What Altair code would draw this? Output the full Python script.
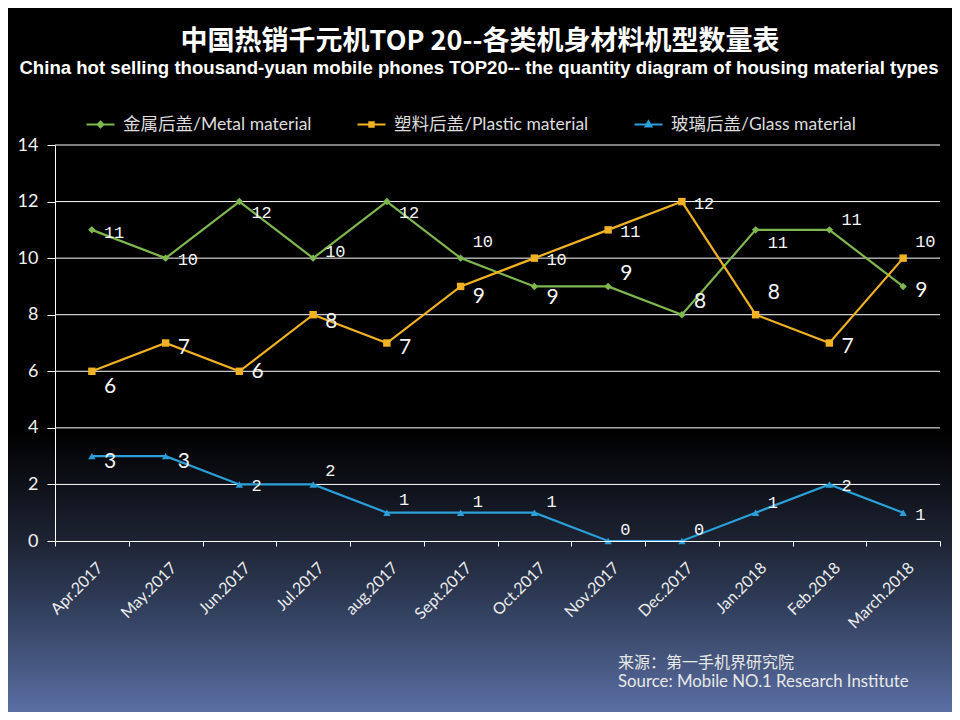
import altair as alt
import pandas as pd

# ---- data ----
months = ["Apr.2017", "May.2017", "Jun.2017", "Jul.2017", "aug.2017", "Sept.2017",
          "Oct.2017", "Nov.2017", "Dec.2017", "Jan.2018", "Feb.2018", "March.2018"]
series = ["金属后盖/Metal material", "塑料后盖/Plastic material", "玻璃后盖/Glass material"]
metal = [11, 10, 12, 10, 12, 10, 9, 9, 8, 11, 11, 9]
plastic = [6, 7, 6, 8, 7, 9, 10, 11, 12, 8, 7, 10]
glass = [3, 3, 2, 2, 1, 1, 1, 0, 0, 1, 2, 1]
y_ticks = [0, 2, 4, 6, 8, 10, 12, 14]

# ---- label vertical nudges (pixels, positive = down), style only ----
metal_dy = [3, 2, 11, -6, 11, -16, 12, -12, -13, 13, -10, 5]
plastic_dy = [16, 5, 1, 7, 5, 11, 2, 2, 2, -22, 4, -16]
glass_dy = [6, 6, 2, -13, -13, -11, -11, -11, -11, -10, 2, 2]

colors = ["#7fb84e", "#f1b324", "#2a9fd8"]
PW, PH = 885, 396
px_per_unit = PH / 14.0

rows = []
for s, vals, dys in zip(series, [metal, plastic, glass], [metal_dy, plastic_dy, glass_dy]):
    for m, v, d in zip(months, vals, dys):
        rows.append({"month": m, "series": s, "value": v, "label_y": v - d / px_per_unit})
df = pd.DataFrame(rows)

FONT_LAT = "Lato, Noto Sans CJK SC"

yaxis = alt.Axis(values=y_ticks, grid=False, domainColor="#ffffff", domainWidth=1,
                 tickColor="#ffffff", tickSize=8, labelColor="#f2f2f2", labelFont="Lato",
                 labelFontSize=18, labelPadding=9, title=None, zindex=1)
xaxis = alt.Axis(tickBand="extent", labelAngle=-45, labelAlign="right", labelBaseline="middle",
                 labelColor="#ececec", labelFont="Lato", labelFontSize=16, labelPadding=19,
                 labelOffset=8, domainColor="#ffffff", tickColor="#ffffff", tickSize=5,
                 grid=False, title=None, zindex=1)

yscale = alt.Scale(domain=[0, 14], nice=False)
X = alt.X("month:N", sort=months, bandPosition=0.5,
          scale=alt.Scale(type="band", domain=months, paddingInner=0, paddingOuter=0),
          axis=xaxis)
Y = alt.Y("value:Q", scale=yscale, axis=yaxis)
YL = alt.Y("label_y:Q", scale=yscale, axis=yaxis)
col_scale = alt.Scale(domain=series, range=colors)

base = alt.Chart(df)

# background gradient covering the whole canvas
bg = alt.Chart(pd.DataFrame({"bg": [0]})).mark_rect(
    color=alt.LinearGradient(
        gradient="linear", x1=0, x2=0, y1=0, y2=1,
        stops=[alt.GradientStop(color="#000000", offset=0),
               alt.GradientStop(color="#000000", offset=0.6),
               alt.GradientStop(color="#1d2333", offset=0.756),
               alt.GradientStop(color="#2e3b57", offset=0.84),
               alt.GradientStop(color="#45567e", offset=0.926),
               alt.GradientStop(color="#5a6ea3", offset=1)])
).encode(x=alt.value(-47), x2=alt.value(897), y=alt.value(-137), y2=alt.value(567))

grid = alt.Chart(pd.DataFrame({"tick": y_ticks[1:]})).mark_rule(color="#ffffff", strokeWidth=1).encode(
    y=alt.Y("tick:Q", scale=yscale, axis=yaxis), x=alt.value(0), x2=alt.value(PW))

lines = base.mark_line(strokeWidth=2.2).encode(
    x=X, y=Y, color=alt.Color("series:N", scale=col_scale, legend=None))

points = base.mark_point(filled=True, size=55, opacity=1).encode(
    x=X, y=Y,
    color=alt.Color("series:N", scale=col_scale, legend=None),
    shape=alt.Shape("series:N", scale=alt.Scale(domain=series, range=["diamond", "square", "triangle-up"]),
                    legend=None))

legend_paths = [
    "M-1,0L1,0M0,-0.2L0.2,0L0,0.2L-0.2,0Z",
    "M-1,0L1,0M-0.15,-0.15L0.15,-0.15L0.15,0.15L-0.15,0.15Z",
    "M-1,0L1,0M0,-0.22L0.2,0.14L-0.2,0.14Z",
]
leg = alt.Legend(orient="none", legendX=30, legendY=-36, direction="horizontal", title=None,
                 labelFont=FONT_LAT, labelFontSize=17.5, labelColor="#dcdcdc", labelOffset=7,
                 labelLimit=400, columnPadding=41, symbolSize=784, symbolStrokeWidth=2.2,
                 symbolOpacity=1, symbolFillColor="transparent", zindex=3)
legend_layer = base.mark_point(filled=False, opacity=0).encode(
    x=X, y=Y,
    color=alt.Color("series:N", scale=col_scale, legend=leg),
    shape=alt.Shape("series:N", scale=alt.Scale(domain=series, range=legend_paths), legend=leg))

big = base.transform_filter("datum.value >= 3 && datum.value < 10").mark_text(
    align="left", baseline="middle", dx=12, font="Lato", fontSize=21, color="#f5f5f5"
).encode(x=X, y=YL, text="value:Q")
small = base.transform_filter("datum.value < 3 || datum.value >= 10").mark_text(
    align="left", baseline="middle", dx=12, font="Liberation Mono", fontSize=17, color="#f5f5f5"
).encode(x=X, y=YL, text="value:Q")

title_cn = alt.Chart(pd.DataFrame({"t": ["中国热销千元机TOP 20--各类机身材料机型数量表"]})).mark_text(
    font="Noto Sans CJK SC", fontWeight="bold", fontSize=27, color="#ffffff", align="center",
    baseline="middle").encode(x=alt.value(425), y=alt.value(-103), text="t:N")
title_en = alt.Chart(pd.DataFrame({"t": ["China hot selling thousand-yuan mobile phones TOP20-- the quantity diagram of housing material types"]})).mark_text(
    font="Liberation Sans", fontWeight="bold", fontSize=18.6, color="#ffffff", align="center",
    baseline="middle").encode(x=alt.value(424), y=alt.value(-77), text="t:N")
src1 = alt.Chart(pd.DataFrame({"t": ["来源：第一手机界研究院"]})).mark_text(
    font=FONT_LAT, fontSize=16, color="#e8e8e8", align="left", baseline="middle"
).encode(x=alt.value(563), y=alt.value(518), text="t:N")
src2 = alt.Chart(pd.DataFrame({"t": ["Source: Mobile NO.1 Research Institute"]})).mark_text(
    font=FONT_LAT, fontSize=16.8, color="#e8e8e8", align="left", baseline="middle"
).encode(x=alt.value(563), y=alt.value(537), text="t:N")

chart = alt.layer(bg, grid, lines, points, legend_layer, big, small, title_cn, title_en, src1, src2).resolve_scale(
    color="independent", shape="independent"
).properties(
    width=PW, height=PH,
    autosize=alt.AutoSizeParams(type="none"),
    padding={"left": 47, "top": 137, "right": 12, "bottom": 171},
    background="#000000",
).configure_view(stroke="transparent")

chart.save("out.html", embed_options={"renderer": "svg", "actions": False})
